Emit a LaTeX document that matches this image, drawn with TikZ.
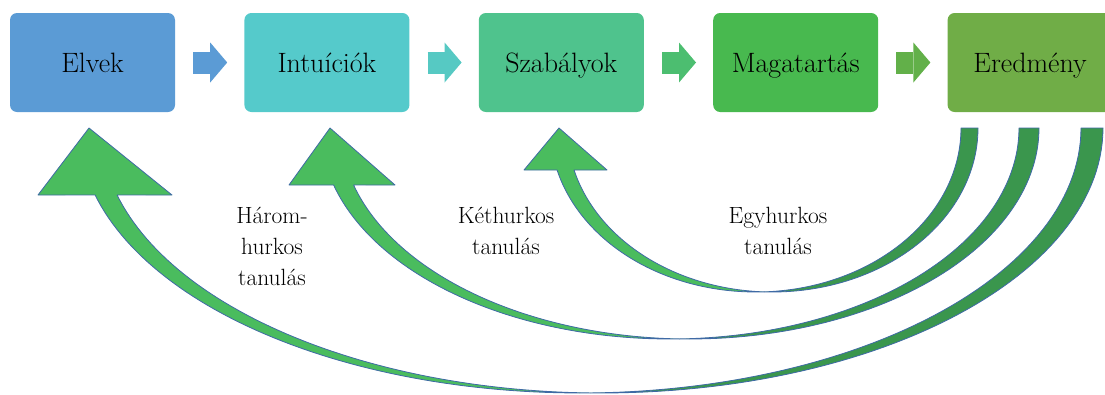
\documentclass[tikz,border=0pt]{standalone}
\usepackage{xcolor}
\usetikzlibrary{arrows.meta,positioning}

\definecolor{elvekBlue}{HTML}{5B9BD5}
\definecolor{intuTeal}{HTML}{55CACB}
\definecolor{szabGreen}{HTML}{4FC38D}
\definecolor{magaGreen}{HTML}{48B94F}
\definecolor{eredGreen}{HTML}{70AD47}
\definecolor{flowTeal}{HTML}{56C9C3}
\definecolor{flowGreen}{HTML}{4CBE70}
\definecolor{flowOlive}{HTML}{62B049}
\definecolor{loopLight}{HTML}{4ABC5E}
\definecolor{loopDark}{HTML}{3A964D}
\definecolor{loopEdge}{HTML}{3F6AA5}

\begin{document}
\begin{tikzpicture}[
    x=1pt,
    y=-1pt,
    >=Latex,
    node distance=69pt,
    stage/.style={
        rounded corners=7pt,
        minimum width=165pt,
        minimum height=99pt,
        inner sep=0pt,
        text height=20pt,
        text depth=1pt,
        font=\fontsize{28}{34}\selectfont
    },
    flow/.style={
        line width=22pt,
        -{Triangle[length=17pt,width=40pt,line width=0pt]},
        shorten <=18pt,
        shorten >=17pt
    },
    loopface/.style={draw=loopEdge, line width=0.8pt, line join=round},
    lbl/.style={align=center, font=\fontsize{23.5}{31}\selectfont}
]

\useasboundingbox (0,0) rectangle (1105,394);

% ---------------------------------------------------------
% Stages
% ---------------------------------------------------------

\node[stage, fill=elvekBlue] (elvek) at (92.5,62.5) {Elvek};
\node[stage, fill=intuTeal, right=of elvek] (intu) {Intuíciók};
\node[stage, fill=szabGreen, right=of intu] (szab) {Szabályok};
\node[stage, fill=magaGreen, right=of szab] (maga) {Magatartás};
\node[stage, fill=eredGreen, right=of maga] (ered) {Eredmény};

\draw[flow, elvekBlue] (elvek) -- (intu);
\draw[flow, flowTeal] (intu) -- (szab);
\draw[flow, flowGreen] (szab) -- (maga);
\draw[flow, flowOlive] (maga) -- (ered);

% ---------------------------------------------------------
% Feedback loops (two shifted half ellipses)
% ---------------------------------------------------------

\foreach \cx/\ra/\rb/\dd/\hy/\tipx/\bl/\br in {
    601.9/501.1/265/22/195/89/38/172,
    689.8/349.2/211/20/185/330/289/395,
    772.6/205.4/164/17/170/559/524/607
}{
    \pgfmathsetmacro\angA{acos(-\dd/(2*\ra))}
    \pgfmathsetmacro\angB{180-\angA}
    \pgfmathsetmacro\angH{180-asin((\hy-128)/\rb)}

    % back side, towards the tail
    \filldraw[loopface, fill=loopDark]
        plot[domain=0:\angA, samples=60]
            ({\cx+\ra*cos(\x)},{128+\rb*sin(\x)})
        -- plot[domain=\angB:0, samples=60]
            ({\cx-\dd+\ra*cos(\x)},{128+\rb*sin(\x)})
        -- cycle;

    % front side with the head
    \filldraw[loopface, fill=loopLight]
        plot[domain=\angB:\angH, samples=60]
            ({\cx-\dd+\ra*cos(\x)},{128+\rb*sin(\x)})
        -- (\bl,\hy) -- (\tipx,128) -- (\br,\hy)
        -- plot[domain=\angH:\angA, samples=60]
            ({\cx+\ra*cos(\x)},{128+\rb*sin(\x)})
        -- cycle;
}

% ---------------------------------------------------------
% Loop labels
% ---------------------------------------------------------

\node[lbl] (harom) at (272,246.5) {Három-\\hurkos\\tanulás};
\node[lbl] (ket) at (506,230.5) {Kéthurkos\\tanulás};
\node[lbl] (egy) at (778,230.5) {Egyhurkos\\tanulás};

\end{tikzpicture}
\end{document}
